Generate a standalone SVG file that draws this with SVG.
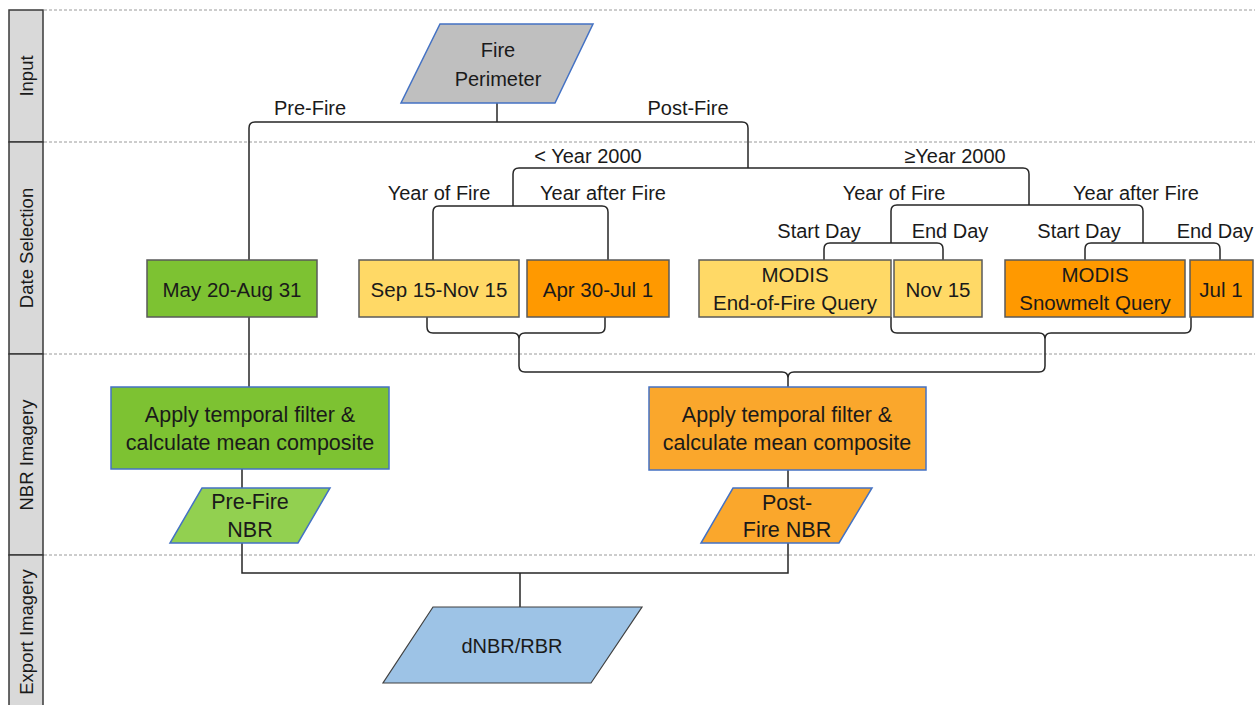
<svg xmlns="http://www.w3.org/2000/svg" width="1255" height="705" viewBox="0 0 1255 705">
<style>
text{font-family:"Liberation Sans",Arial,sans-serif;fill:#1a1a1a;text-anchor:middle}
.lane{fill:#d9d9d9;stroke:#3a3a3a;stroke-width:1.5}
.lt{font-size:18.5px}
.sep{stroke:#9a9a9a;stroke-width:1;stroke-dasharray:3 2;fill:none}
.con{fill:none;stroke:#262626;stroke-width:1.5}
.lbl{font-size:20px}
.bt{font-size:20.5px}
.nt{font-size:21.5px}
.box{stroke:#5a5a5a;stroke-width:1.5}
.blue{stroke:#4472c4;stroke-width:1.5}
</style>
<rect width="1255" height="705" fill="#ffffff"/>
<g id="lanes">
<rect class="lane" x="9" y="10" width="34" height="132"/>
<rect class="lane" x="9" y="142" width="34" height="212"/>
<rect class="lane" x="9" y="354" width="34" height="201"/>
<rect class="lane" x="9" y="555" width="34" height="160"/>
<text class="lt" transform="translate(33,76) rotate(-90)">Input</text>
<text class="lt" transform="translate(33,248) rotate(-90)">Date Selection</text>
<text class="lt" transform="translate(33,455) rotate(-90)">NBR Imagery</text>
<text class="lt" transform="translate(33,632) rotate(-90)">Export Imagery</text>
<line class="sep" x1="44" y1="10" x2="1255" y2="10"/>
<line class="sep" x1="44" y1="142" x2="1255" y2="142"/>
<line class="sep" x1="44" y1="354" x2="1255" y2="354"/>
<line class="sep" x1="44" y1="555" x2="1255" y2="555"/>
</g>
<g id="connectors">
<path class="con" d="M497,103 L497,122"/>
<path class="con" d="M249,260 L249,128 Q249,122 255,122 L742,122 Q748,122 748,128 L748,168"/>
<path class="con" d="M513,206 L513,174 Q513,168 519,168 L1023,168 Q1029,168 1029,174 L1029,205"/>
<path class="con" d="M433,260 L433,212 Q433,206 439,206 L602,206 Q608,206 608,212 L608,260"/>
<path class="con" d="M891,243 L891,211 Q891,205 897,205 L1137,205 Q1143,205 1143,211 L1143,243"/>
<path class="con" d="M824,260 L824,249 Q824,243 830,243 L937,243 Q943,243 943,249 L943,260"/>
<path class="con" d="M1085,260 L1085,249 Q1085,243 1091,243 L1214,243 Q1220,243 1220,249 L1220,260"/>
<path class="con" d="M249,317 L249,387"/>
<path class="con" d="M427,317 L427,327 Q427,333 433,333 L513,333 Q519,333 519,339 M605,317 L605,327 Q605,333 599,333 L525,333 Q519,333 519,339"/>
<path class="con" d="M891,317 L891,327 Q891,333 897,333 L1039,333 Q1045,333 1045,339 M1191,317 L1191,327 Q1191,333 1185,333 L1051,333 Q1045,333 1045,339"/>
<path class="con" d="M519,339 L519,366 Q519,372 525,372 L782,372 Q788,372 788,378 L788,387 M1045,339 L1045,366 Q1045,372 1039,372 L794,372 Q788,372 788,378"/>
<path class="con" d="M242,469 L242,488 M242,543 L242,573 L788,573 L788,543 M788,470 L788,488 M520,573 L520,607"/>
</g>
<g id="labels">
<text class="lbl" x="310" y="115">Pre-Fire</text>
<text class="lbl" x="688" y="115">Post-Fire</text>
<text class="lbl" x="588" y="163">&lt; Year 2000</text>
<text class="lbl" x="955" y="163">≥Year 2000</text>
<text class="lbl" x="439" y="200">Year of Fire</text>
<text class="lbl" x="603" y="200">Year after Fire</text>
<text class="lbl" x="894" y="200">Year of Fire</text>
<text class="lbl" x="1136" y="200">Year after Fire</text>
<text class="lbl" x="819" y="238">Start Day</text>
<text class="lbl" x="950" y="238">End Day</text>
<text class="lbl" x="1079" y="238">Start Day</text>
<text class="lbl" x="1215" y="238">End Day</text>
</g>
<g id="fire-perimeter">
<polygon class="blue" points="440,24 593,24 555,103 401,103" fill="#bfbfbf"/>
<text class="lbl" x="498" y="57">Fire</text>
<text class="lbl" x="498" y="86">Perimeter</text>
</g>
<g id="may-aug">
<rect class="box" x="147" y="260" width="170" height="57" fill="#7dc232"/>
<text class="bt" x="232" y="297">May 20-Aug 31</text>
</g>
<g id="sep-nov">
<rect class="box" x="359" y="260" width="160" height="57" fill="#ffd966"/>
<text class="bt" x="439" y="297">Sep 15-Nov 15</text>
</g>
<g id="apr-jul">
<rect class="box" x="527" y="260" width="142" height="57" fill="#ff9900"/>
<text class="bt" x="598" y="297">Apr 30-Jul 1</text>
</g>
<g id="modis-eof">
<rect class="box" x="699" y="260" width="192" height="57" fill="#ffd966"/>
<text class="bt" x="795" y="282">MODIS</text>
<text class="bt" x="795" y="310">End-of-Fire Query</text>
</g>
<g id="nov15">
<rect class="box" x="894" y="260" width="88" height="57" fill="#ffd966"/>
<text class="bt" x="938" y="297">Nov 15</text>
</g>
<g id="modis-snow">
<rect class="box" x="1005" y="260" width="180" height="57" fill="#ff9900"/>
<text class="bt" x="1095" y="282">MODIS</text>
<text class="bt" x="1095" y="310">Snowmelt Query</text>
</g>
<g id="jul1">
<rect class="box" x="1190" y="260" width="63" height="57" fill="#ff9900"/>
<text class="bt" x="1221" y="297">Jul 1</text>
</g>
<g id="pre-composite">
<rect class="blue" x="111" y="387" width="278" height="82" fill="#7dc232"/>
<text class="nt" x="250" y="422">Apply temporal filter &amp;</text>
<text class="nt" x="250" y="450">calculate mean composite</text>
</g>
<g id="post-composite">
<rect class="blue" x="649" y="387" width="277" height="83" fill="#faa72c"/>
<text class="nt" x="787" y="422">Apply temporal filter &amp;</text>
<text class="nt" x="787" y="450">calculate mean composite</text>
</g>
<g id="pre-nbr">
<polygon class="blue" points="202,488 330,488 298,543 170,543" fill="#92d050"/>
<text class="nt" x="250" y="509">Pre-Fire</text>
<text class="nt" x="250" y="537">NBR</text>
</g>
<g id="post-nbr">
<polygon class="blue" points="733,488 872,488 839,543 701,543" fill="#faa72c"/>
<text class="nt" x="787" y="510">Post-</text>
<text class="nt" x="787" y="537">Fire NBR</text>
</g>
<g id="dnbr">
<polygon points="433,607 642,607 591,683 383,683" fill="#9dc3e6" stroke="#404040" stroke-width="1.2"/>
<text class="lbl" x="512" y="653">dNBR/RBR</text>
</g>
</svg>
